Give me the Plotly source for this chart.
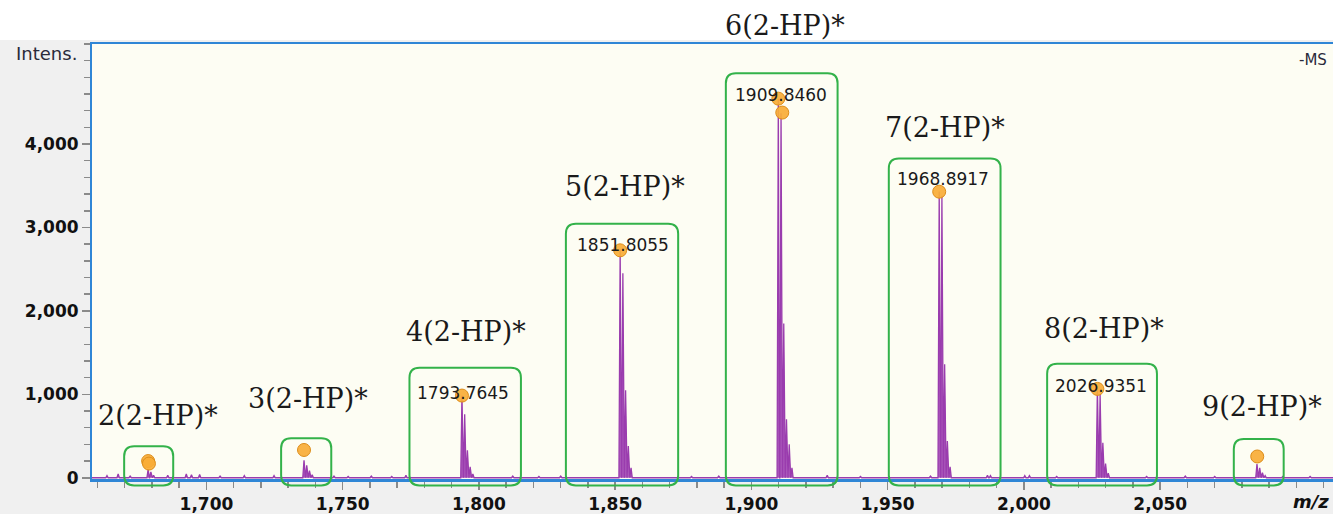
import plotly.graph_objects as go

# ---------------- data ----------------
cluster_names = ["2(2-HP)*", "3(2-HP)*", "4(2-HP)*", "5(2-HP)*",
                 "6(2-HP)*", "7(2-HP)*", "8(2-HP)*", "9(2-HP)*"]
cluster_label_mz = [1682.2, 1737.3, 1795.2, 1853.5, 1912.4, 1971.2, 2029.5, 2087.5]
cluster_label_int = [746, 949, 1758, 3496, 5425, 4199, 1794, 854]

# isotope sticks of each cluster (m/z, intensity)
c2_mz = [1678.6, 1679.6, 1680.6]
c2_int = [105, 70, 30]
c3_mz = [1735.8, 1736.8, 1737.8, 1738.8]
c3_int = [210, 150, 85, 35]
c4_mz = [1793.76, 1794.76, 1795.76, 1796.76, 1797.76]
c4_int = [985, 760, 330, 130, 45]
c5_mz = [1851.81, 1852.81, 1853.81, 1854.81, 1855.81]
c5_int = [2740, 2450, 1050, 380, 120]
c6_mz = [1909.85, 1910.85, 1911.85, 1912.85, 1913.85, 1914.85]
c6_int = [4540, 4370, 1850, 700, 400, 120]
c7_mz = [1968.89, 1969.89, 1970.89, 1971.89, 1972.89]
c7_int = [3430, 3380, 1360, 440, 130]
c8_mz = [2026.94, 2027.94, 2028.94, 2029.94, 2030.94]
c8_int = [1085, 1000, 420, 170, 55]
c9_mz = [2085.5, 2086.5, 2087.5, 2088.5]
c9_int = [165, 120, 60, 25]

# small baseline noise peaks
noise_mz = [1663.5, 1667.6, 1672.0, 1685.8, 1692.6, 1694.5, 1697.5, 1705.0,
            1713.9, 1724.8, 1746.8, 1752.0, 1760.5, 1768.0, 1773.2, 1812.4,
            1822.0, 1830.0, 1878.0, 1888.0, 1927.8, 1940.0, 1965.7, 1986.6,
            1987.7, 2000.3, 2002.0, 2012.0, 2045.0, 2059.2, 2070.0, 2095.0, 2105.0]
noise_int = [25, 45, 20, 30, 45, 35, 40, 20,
             25, 25, 20, 15, 20, 15, 30, 20,
             15, 20, 15, 20, 30, 15, 20, 30,
             25, 25, 25, 15, 15, 20, 15, 15, 15]

# peak-pick markers (orange dots)
marker_mz = [1678.6, 1678.9, 1735.8, 1793.76, 1851.81, 1909.85, 1911.3, 1968.89, 2026.94, 2085.6]
marker_int = [200, 170, 333, 985, 2726, 4544, 4377, 3429, 1065, 255]

# peak m/z labels
peak_label_text = ["1793.7645", "1851.8055", "1909.8460", "1968.8917", "2026.9351"]
peak_label_mz = [1794.3, 1853.0, 1910.7, 1970.4, 2028.4]
peak_label_int = [1020, 2794, 4592, 3577, 1104]

# green boxes: (m/z left, m/z right, top intensity)
box_left = [1669.8, 1727.4, 1774.5, 1831.9, 1890.6, 1950.4, 2008.5, 2077.0]
box_right = [1687.8, 1745.8, 1815.4, 1873.1, 1931.6, 1991.4, 2048.8, 2095.3]
box_top = [377, 473, 1318, 3044, 4848, 3826, 1365, 463]

x_ticks = [1700, 1750, 1800, 1850, 1900, 1950, 2000, 2050]
y_ticks = [0, 1000, 2000, 3000, 4000]

# ---------------- layout constants ----------------
W, H = 1333, 514
PL_S, PT_S, PB_S = 92, 43, 482   # plot edges in screen pixels
ML, MR = PL_S, 0
MT = PT_S
MB = H - PB_S
PW, PH = W - ML - MR, H - MT - MB
XR = [1658.0, 2113.4]
YR = [-15, 5211]
BLUE = "#2f86d6"
GREEN = "#33b24a"
PURPLE = "#9a3cae"


def px2paper_x(px):
    return (px - PL_S) / PW


def px2paper_y(py):
    return (PB_S - py) / PH


def ypaper(v):
    return (v - YR[0]) / (YR[1] - YR[0])


# build stick profile
sticks = []
for mzs, ints in [(c2_mz, c2_int), (c3_mz, c3_int), (c4_mz, c4_int), (c5_mz, c5_int),
                  (c6_mz, c6_int), (c7_mz, c7_int), (c8_mz, c8_int), (c9_mz, c9_int),
                  (noise_mz, noise_int)]:
    sticks += list(zip(mzs, ints))
sticks.sort()
px, py = [XR[0] - 5], [0]
hw = 0.45
for m, h in sticks:
    px += [m - hw, m, m + hw]
    py += [0, h, 0]
px.append(XR[1] + 5)
py.append(0)

fig = go.Figure()
fig.add_trace(go.Scatter(x=px, y=py, mode="lines", fill="tozeroy",
                         line=dict(color=PURPLE, width=1.3),
                         fillcolor="rgba(155,60,175,0.85)",
                         hoverinfo="skip", showlegend=False))
fig.add_trace(go.Scatter(x=marker_mz, y=marker_int, mode="markers",
                         marker=dict(size=13, color="rgba(248,172,55,0.92)",
                                     line=dict(color="#dd8d1a", width=1)),
                         hoverinfo="skip", showlegend=False))

annotations = []
for t, m, v in zip(peak_label_text, peak_label_mz, peak_label_int):
    annotations.append(dict(x=m, y=ypaper(v), xref="x", yref="paper", text=t, showarrow=False,
                            xanchor="center", yanchor="middle",
                            font=dict(family="DejaVu Sans", size=17, color="#1a1a1a")))
for t, m, v in zip(cluster_names, cluster_label_mz, cluster_label_int):
    annotations.append(dict(x=m, y=ypaper(v), xref="x", yref="paper", text=t, showarrow=False,
                            xanchor="center", yanchor="middle",
                            font=dict(family="DejaVu Serif", size=27, color="#1a1a1a")))
annotations.append(dict(x=px2paper_x(79), y=px2paper_y(54), xref="paper", yref="paper",
                        text="Intens.", showarrow=False, xanchor="right", yanchor="middle",
                        font=dict(family="DejaVu Sans", size=18, color="#2a2a3a")))
annotations.append(dict(x=px2paper_x(1329), y=px2paper_y(60), xref="paper", yref="paper",
                        text="-MS", showarrow=False, xanchor="right", yanchor="middle",
                        font=dict(family="DejaVu Sans", size=15, color="#2a2a3a")))
annotations.append(dict(x=px2paper_x(1331), y=px2paper_y(505), xref="paper", yref="paper",
                        text="<b><i>m/z</i></b>", showarrow=False, xanchor="right", yanchor="middle",
                        font=dict(family="DejaVu Sans", size=18, color="#111111")))

shapes = []
# white strip above plot
shapes.append(dict(type="rect", xref="paper", yref="paper", x0=px2paper_x(-20), x1=1.02,
                   y0=px2paper_y(40), y1=px2paper_y(-20),
                   fillcolor="white", line=dict(width=0), layer="below"))
# top border
shapes.append(dict(type="line", xref="paper", yref="paper", x0=px2paper_x(90), x1=1.0,
                   y0=1.0, y1=1.0, line=dict(color=BLUE, width=2)))

rx = 10 / (PW / (XR[1] - XR[0]))
ry = 10 / PH
yb = px2paper_y(488.5)
for x0, x1, top in zip(box_left, box_right, box_top):
    y1 = ypaper(top)
    y0 = yb
    path = (f"M {x0 + rx},{y1} L {x1 - rx},{y1} Q {x1},{y1} {x1},{y1 - ry} "
            f"L {x1},{y0 + ry} Q {x1},{y0} {x1 - rx},{y0} "
            f"L {x0 + rx},{y0} Q {x0},{y0} {x0},{y0 + ry} "
            f"L {x0},{y1 - ry} Q {x0},{y1} {x0 + rx},{y1} Z")
    shapes.append(dict(type="path", xref="x", yref="paper", path=path,
                       line=dict(color=GREEN, width=2), layer="above"))

tickfont = dict(family="DejaVu Sans", size=17, color="#111111", weight="bold")
fig.update_layout(
    width=W, height=H,
    margin=dict(l=ML, r=MR, t=MT, b=MB, pad=0),
    paper_bgcolor="#f0f0f0",
    plot_bgcolor="#fdfdf3",
    showlegend=False,
    hovermode=False,
    annotations=annotations,
    shapes=shapes,
    xaxis=dict(range=XR, tickmode="array", tickvals=x_ticks,
               ticktext=[f"{v:,}" for v in x_ticks],
               showgrid=False, zeroline=False, showline=True, linecolor=BLUE, linewidth=3,
               ticks="outside", ticklen=8, tickwidth=1.5, tickcolor="#8a8a8a",
               minor=dict(tickmode="linear", tick0=1700, dtick=10, ticks="outside",
                          ticklen=6, tickwidth=1.5, tickcolor="#8a8a8a", showgrid=False),
               tickfont=tickfont),
    yaxis=dict(range=YR, tickmode="array", tickvals=y_ticks,
               ticktext=[f"{v:,}" for v in y_ticks],
               showgrid=False, zeroline=False, showline=True, linecolor=BLUE, linewidth=2,
               ticks="outside", ticklen=8, tickwidth=1.5, tickcolor="#8a8a8a",
               minor=dict(tickmode="linear", tick0=0, dtick=200, ticks="outside",
                          ticklen=6, tickwidth=1.5, tickcolor="#8a8a8a", showgrid=False),
               tickfont=tickfont),
)

fig.write_html("out.html",
               config={"displayModeBar": False, "staticPlot": True},
               post_script="document.body.style.margin='0px';document.body.style.overflow='hidden';")
